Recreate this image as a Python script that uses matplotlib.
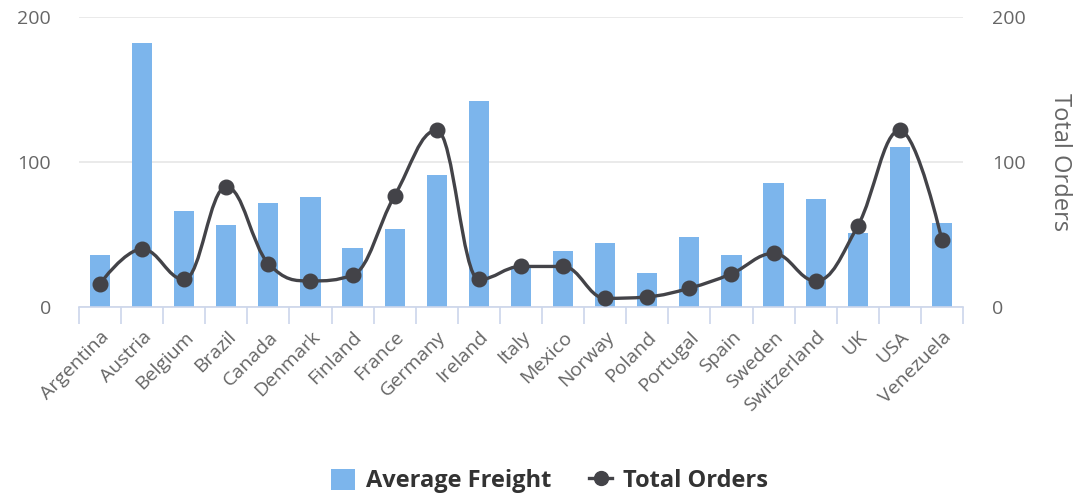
import matplotlib.pyplot as plt
from matplotlib.path import Path
from matplotlib.patches import PathPatch
from matplotlib.lines import Line2D
from matplotlib.patches import Patch

countries = ["Argentina", "Austria", "Belgium", "Brazil", "Canada", "Denmark", "Finland",
             "France", "Germany", "Ireland", "Italy", "Mexico", "Norway", "Poland",
             "Portugal", "Spain", "Sweden", "Switzerland", "UK", "USA", "Venezuela"]
avg_freight = [35.7, 182.4, 66.4, 56.5, 71.9, 76.0, 40.4, 53.7, 91.5, 142.4, 27.0,
               38.7, 44.2, 23.5, 48.4, 35.7, 85.7, 74.4, 51.1, 110.6, 58.0]
total_orders = [16, 40, 19, 83, 30, 18, 22, 77, 122, 19, 28, 28, 6, 7, 13, 23, 37, 18,
                56, 122, 46]

plt.rcParams['font.family'] = ['Open Sans', 'DejaVu Sans']

BAR = '#7cb5ec'
LINE = '#434348'
LABEL = '#666666'
AXIS = '#ccd6eb'


def spline_path(xs, ys, smoothing=1.5):
    # highcharts style spline: control points from neighbours
    n = len(xs)
    left = [(xs[i], ys[i]) for i in range(n)]
    right = [(xs[i], ys[i]) for i in range(n)]
    d = smoothing + 1
    for i in range(1, n - 1):
        px, py = xs[i], ys[i]
        lx, ly = xs[i - 1], ys[i - 1]
        nx, ny = xs[i + 1], ys[i + 1]
        lcx = (smoothing * px + lx) / d
        lcy = (smoothing * py + ly) / d
        rcx = (smoothing * px + nx) / d
        rcy = (smoothing * py + ny) / d
        if rcx != lcx:
            corr = ((rcy - lcy) * (rcx - px)) / (rcx - lcx) + py - rcy
            lcy += corr
            rcy += corr
        if lcy > ly and lcy > py:
            lcy = max(ly, py)
            rcy = 2 * py - lcy
        elif lcy < ly and lcy < py:
            lcy = min(ly, py)
            rcy = 2 * py - lcy
        if rcy > ny and rcy > py:
            rcy = max(ny, py)
            lcy = 2 * py - rcy
        elif rcy < ny and rcy < py:
            rcy = min(ny, py)
            lcy = 2 * py - rcy
        left[i] = (lcx, lcy)
        right[i] = (rcx, rcy)
    verts = [(xs[0], ys[0])]
    codes = [Path.MOVETO]
    for i in range(1, n):
        verts += [right[i - 1], left[i], (xs[i], ys[i])]
        codes += [Path.CURVE4] * 3
    return Path(verts, codes)


fig = plt.figure(figsize=(10.8, 4.97), dpi=100)
ax = fig.add_axes([0.0731, 0.3823, 0.8186, 0.5827])
ax2 = ax.twinx()

x = list(range(len(countries)))
ax.bar(x, avg_freight, width=0.48, color=BAR, zorder=2)
ax.set_xlim(-0.5, len(countries) - 0.5)
ax.set_ylim(0, 200)
ax2.set_ylim(0, 200)

for a in (ax, ax2):
    for s in a.spines.values():
        s.set_visible(False)
ax.spines['bottom'].set_visible(True)
ax.spines['bottom'].set_color(AXIS)
ax.spines['bottom'].set_linewidth(1.2)

ax.set_yticks([0, 100, 200])
ax2.set_yticks([0, 100, 200])
ax.tick_params(axis='y', length=0, pad=20, labelsize=14, labelcolor=LABEL)
ax2.tick_params(axis='y', length=0, pad=21, labelsize=14, labelcolor=LABEL)
ax.yaxis.grid(True, color='#e6e6e6', linewidth=1.2, zorder=0)
ax.set_axisbelow(True)

ax.set_xticks(x)
ax.set_xticklabels(countries, rotation=45, ha='right', rotation_mode='anchor')
ax.tick_params(axis='x', which='major', length=0, pad=15, labelsize=14, labelcolor=LABEL)
ax.set_xticks([i - 0.5 for i in range(len(countries) + 1)], minor=True)
ax.tick_params(axis='x', which='minor', length=12, width=1.2, color=AXIS)

ax2.set_ylabel('Total Orders', rotation=270, va='center', fontsize=17, color=LABEL)
ax2.yaxis.set_label_coords(1.11, 0.5)

path = spline_path(x, total_orders)
ax2.add_patch(PathPatch(path, facecolor='none', edgecolor=LINE, linewidth=2.4, zorder=3))
ax2.plot(x, total_orders, linestyle='none', marker='o', markersize=10.5, color=LINE, zorder=4)

handles = [Patch(facecolor=BAR, edgecolor='none', label='Average Freight'),
           Line2D([0], [0], color=LINE, linewidth=2.4, marker='o', markersize=10, label='Total Orders')]
leg = fig.legend(handles=handles, loc='center', bbox_to_anchor=(0.509, 0.032), ncol=2,
                 frameon=False, prop={'weight': 'bold', 'size': 17}, handlelength=1.0,
                 handleheight=1.0, columnspacing=1.6, handletextpad=0.45)
for t in leg.get_texts():
    t.set_color('#333333')

fig.savefig('out.png', dpi=100)
